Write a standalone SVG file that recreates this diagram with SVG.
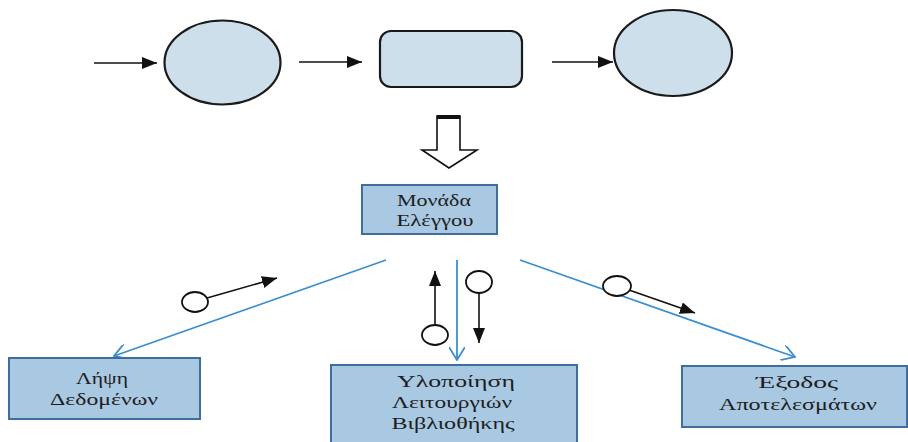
<svg xmlns="http://www.w3.org/2000/svg" width="908" height="442" viewBox="0 0 908 442">
<style>
.shape{fill:#cddfeb;stroke:#1a1a1a;stroke-width:2.2}
.box{fill:#a9c8e2;stroke:#3f6d9c;stroke-width:2}
.txt{font-family:"Liberation Serif","DejaVu Serif",serif;font-size:17.5px;fill:#1e1e1e;text-anchor:middle}
.blk{stroke:#111;stroke-width:1.6;fill:none}
.blue{stroke:#3b8fd0;stroke-width:1.8;fill:none}
.knob{fill:#fff;stroke:#111;stroke-width:1.8}
</style>
<defs>
<marker id="ahL" viewBox="0 0 16 12" refX="15" refY="6" markerWidth="16" markerHeight="12" markerUnits="userSpaceOnUse" orient="auto">
<path d="M0,0 L15,6 L0,12 z" fill="#111"/>
</marker>
<marker id="open" viewBox="0 0 14 16" refX="13" refY="8" markerWidth="14" markerHeight="16" markerUnits="userSpaceOnUse" orient="auto">
<path d="M0,0 L13,8 L0,16" fill="none" stroke="#3b8fd0" stroke-width="1.8"/>
</marker>
</defs>

<g id="connectors">
<line class="blk" x1="94" y1="63" x2="157" y2="63" marker-end="url(#ahL)"/>
<line class="blk" x1="299" y1="62" x2="362" y2="62" marker-end="url(#ahL)"/>
<line class="blk" x1="552" y1="62" x2="613" y2="62" marker-end="url(#ahL)"/>
<line class="blue" x1="386" y1="260" x2="114" y2="356" marker-end="url(#open)"/>
<line class="blue" x1="457" y1="260" x2="457" y2="360" marker-end="url(#open)"/>
<line class="blue" x1="520" y1="260" x2="795" y2="357" marker-end="url(#open)"/>
</g>

<g id="flow-left">
<line class="blk" x1="207" y1="298" x2="277" y2="278" marker-end="url(#ahL)"/>
<ellipse class="knob" cx="195" cy="302" rx="13" ry="10"/>
</g>
<g id="flow-up">
<line class="blk" x1="435" y1="325" x2="435" y2="271" marker-end="url(#ahL)"/>
<ellipse class="knob" cx="435" cy="335" rx="13" ry="10"/>
</g>
<g id="flow-down">
<line class="blk" x1="479" y1="293" x2="479" y2="343" marker-end="url(#ahL)"/>
<ellipse class="knob" cx="479" cy="282" rx="13" ry="11"/>
</g>
<g id="flow-right">
<line class="blk" x1="629" y1="290" x2="695" y2="313" marker-end="url(#ahL)"/>
<ellipse class="knob" cx="617" cy="286" rx="14" ry="10"/>
</g>

<g id="circle-in">
<ellipse class="shape" cx="222.5" cy="62.5" rx="58" ry="42"/>
</g>
<g id="process">
<rect class="shape" x="380" y="31" width="142" height="56" rx="11"/>
</g>
<g id="circle-out">
<ellipse class="shape" cx="673" cy="53" rx="59" ry="43"/>
</g>

<g id="hollow-arrow">
<polygon points="437,116 460,116 460,150 477,150 449,168 422,150 437,150" fill="#fff" stroke="#111" stroke-width="1.6"/>
<rect x="437" y="115" width="23" height="4" fill="#111"/>
</g>

<g id="control-unit">
<rect class="box" x="362" y="185" width="135" height="49"/>
<text class="txt" x="434" y="206" textLength="74" lengthAdjust="spacingAndGlyphs">Μονάδα</text>
<text class="txt" x="435" y="226" textLength="77" lengthAdjust="spacingAndGlyphs">Ελέγγου</text>
</g>

<g id="data-input">
<rect class="box" x="9" y="358" width="191" height="61"/>
<text class="txt" x="102" y="384" textLength="52" lengthAdjust="spacingAndGlyphs">Λήψη</text>
<text class="txt" x="104" y="405" textLength="108" lengthAdjust="spacingAndGlyphs">Δεδομένων</text>
</g>

<g id="library-functions">
<rect class="box" x="331" y="365" width="246" height="82"/>
<text class="txt" x="456" y="387" textLength="118" lengthAdjust="spacingAndGlyphs">Υλοποίηση</text>
<text class="txt" x="452" y="408" textLength="120" lengthAdjust="spacingAndGlyphs">Λειτουργιών</text>
<text class="txt" x="453" y="429" textLength="123" lengthAdjust="spacingAndGlyphs">Βιβλιοθήκης</text>
</g>

<g id="results-output">
<rect class="box" x="682" y="366" width="225" height="61"/>
<text class="txt" x="797" y="388" textLength="82" lengthAdjust="spacingAndGlyphs">Έξοδος</text>
<text class="txt" x="798" y="410" textLength="158" lengthAdjust="spacingAndGlyphs">Αποτελεσμάτων</text>
</g>
</svg>
